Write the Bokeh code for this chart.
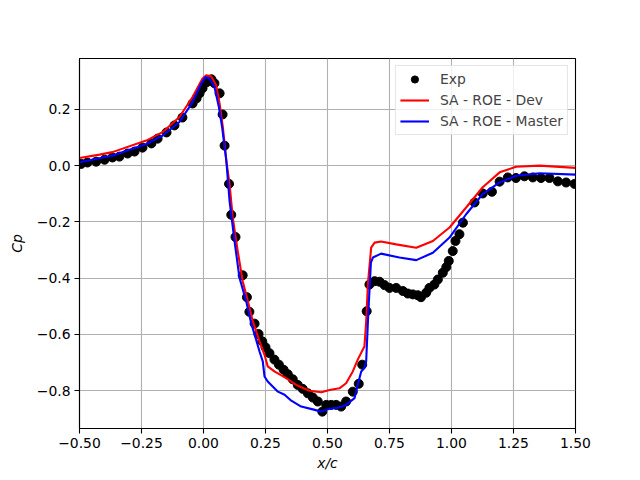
from bokeh.plotting import figure
from bokeh.models import FixedTicker, Range1d, Legend, LegendItem, CustomJSTickFormatter
from bokeh.embed import file_html
from bokeh.resources import INLINE

exp_x = [-0.493, -0.468, -0.433, -0.399, -0.367, -0.339, -0.306, -0.278, -0.246, -0.210,
         -0.185, -0.149, -0.117, -0.085, -0.044, -0.028, -0.016, -0.004, 0.012, 0.032,
         0.044, 0.065, 0.077, 0.085, 0.103, 0.112, 0.129, 0.158, 0.175, 0.185,
         0.206, 0.222, 0.237, 0.250, 0.266, 0.286, 0.304, 0.323, 0.340, 0.360,
         0.380, 0.400, 0.421, 0.441, 0.461, 0.479, 0.495, 0.515, 0.535, 0.555,
         0.575, 0.602, 0.626, 0.640, 0.658, 0.669, 0.690, 0.710, 0.730, 0.750,
         0.777, 0.804, 0.824, 0.844, 0.864, 0.877, 0.898, 0.911, 0.931, 0.945,
         0.965, 0.979, 0.989, 1.005, 1.016, 1.032, 1.046, 1.093, 1.126, 1.163,
         1.194, 1.227, 1.260, 1.294, 1.328, 1.361, 1.395, 1.429, 1.462, 1.496]
exp_y = [0.006, 0.011, 0.014, 0.021, 0.029, 0.032, 0.043, 0.050, 0.064, 0.079,
         0.096, 0.118, 0.143, 0.171, 0.221, 0.239, 0.257, 0.275, 0.296, 0.307,
         0.293, 0.257, 0.182, 0.071, -0.065, -0.175, -0.254, -0.390, -0.468, -0.520,
         -0.562, -0.599, -0.625, -0.646, -0.667, -0.690, -0.708, -0.726, -0.742, -0.760,
         -0.780, -0.794, -0.810, -0.825, -0.839, -0.875, -0.851, -0.851, -0.851, -0.857,
         -0.839, -0.804, -0.776, -0.708, -0.518, -0.423, -0.411, -0.413, -0.425, -0.435,
         -0.435, -0.446, -0.455, -0.458, -0.461, -0.468, -0.452, -0.435, -0.423, -0.405,
         -0.381, -0.361, -0.339, -0.304, -0.268, -0.244, -0.203, -0.131, -0.099, -0.093,
         -0.057, -0.042, -0.044, -0.038, -0.042, -0.044, -0.044, -0.056, -0.060, -0.065]

dev_x = [-0.5, -0.419, -0.367, -0.231, -0.165, -0.097, -0.044, -0.004, 0.011, 0.031,
         0.051, 0.065, 0.078, 0.092, 0.105, 0.118, 0.138, 0.158, 0.179, 0.199,
         0.226, 0.246, 0.259, 0.286, 0.333, 0.374, 0.427, 0.475, 0.508, 0.548,
         0.575, 0.602, 0.622, 0.642, 0.649, 0.656, 0.663, 0.676, 0.690, 0.716,
         0.777, 0.858, 0.925, 0.992, 1.059, 1.126, 1.194, 1.260, 1.355, 1.500]
dev_y = [0.027, 0.039, 0.048, 0.089, 0.119, 0.173, 0.244, 0.310, 0.321, 0.318,
         0.286, 0.220, 0.137, 0.018, -0.065, -0.185, -0.304, -0.411, -0.482, -0.554,
         -0.625, -0.673, -0.714, -0.732, -0.756, -0.780, -0.801, -0.806, -0.798, -0.792,
         -0.774, -0.732, -0.690, -0.655, -0.643, -0.554, -0.420, -0.292, -0.274, -0.270,
         -0.280, -0.292, -0.268, -0.220, -0.149, -0.077, -0.024, -0.004, 0.000, -0.008]

master_x = [-0.5, -0.366, -0.231, -0.164, -0.097, -0.044, -0.009, 0.008, 0.024, 0.044,
            0.062, 0.075, 0.092, 0.105, 0.125, 0.145, 0.172, 0.192, 0.206, 0.226,
            0.239, 0.246, 0.259, 0.279, 0.300, 0.327, 0.354, 0.394, 0.441, 0.475,
            0.508, 0.542, 0.575, 0.609, 0.622, 0.636, 0.649, 0.656, 0.663, 0.667,
            0.675, 0.683, 0.716, 0.790, 0.858, 0.925, 0.992, 1.059, 1.126, 1.194,
            1.260, 1.355, 1.500]
master_y = [0.012, 0.036, 0.077, 0.107, 0.155, 0.226, 0.292, 0.315, 0.310, 0.280,
            0.208, 0.137, 0.018, -0.125, -0.268, -0.399, -0.482, -0.560, -0.601, -0.661,
            -0.696, -0.750, -0.768, -0.786, -0.804, -0.815, -0.836, -0.857, -0.867, -0.875,
            -0.865, -0.861, -0.851, -0.827, -0.779, -0.732, -0.720, -0.696, -0.554, -0.482,
            -0.345, -0.327, -0.313, -0.327, -0.336, -0.310, -0.256, -0.173, -0.101, -0.060,
            -0.036, -0.027, -0.032]

x_ticks = [-0.5, -0.25, 0.0, 0.25, 0.5, 0.75, 1.0, 1.25, 1.5]
x_tick_labels = ["\u22120.50", "\u22120.25", "0.00", "0.25", "0.50", "0.75", "1.00", "1.25", "1.50"]
y_ticks = [-0.8, -0.6, -0.4, -0.2, 0.0, 0.2]
y_tick_labels = ["\u22120.8", "\u22120.6", "\u22120.4", "\u22120.2", "0.0", "0.2"]

FONT = "DejaVu Sans"
FS = "13.9px"

p = figure(frame_width=496, frame_height=370,
           min_border_left=79, min_border_right=49, min_border_top=58, min_border_bottom=36,
           x_range=Range1d(-0.5, 1.5), y_range=Range1d(-0.935, 0.381),
           output_backend="svg", toolbar_location=None,
           background_fill_color="white", border_fill_color="white")

p.outline_line_color = "black"
p.outline_line_width = 1.1

fmt_code = """
let best = 0; let d = Infinity;
for (let i = 0; i < tvals.length; i++) {
  const e = Math.abs(tvals[i] - tick);
  if (e < d) { d = e; best = i; }
}
return tlabels[best];
"""
p.xaxis.ticker = FixedTicker(ticks=x_ticks)
p.yaxis.ticker = FixedTicker(ticks=y_ticks)
p.xaxis.formatter = CustomJSTickFormatter(args=dict(tvals=x_ticks, tlabels=x_tick_labels), code=fmt_code)
p.yaxis.formatter = CustomJSTickFormatter(args=dict(tvals=y_ticks, tlabels=y_tick_labels), code=fmt_code)

for ax in (p.xaxis, p.yaxis):
    ax.axis_line_width = 1.1
    ax.major_tick_line_width = 1.1
    ax.major_tick_out = 5
    ax.major_tick_in = 0
    ax.minor_tick_out = 0
    ax.minor_tick_in = 0
    ax.major_label_text_font = FONT
    ax.major_label_text_font_size = FS
    ax.major_label_text_color = "black"
    ax.axis_label_text_font = FONT
    ax.axis_label_text_font_size = FS
    ax.axis_label_text_font_style = "italic"
    ax.axis_label_text_color = "black"
    ax.major_label_standoff = 4

p.xaxis.axis_label = "x/c"
p.yaxis.axis_label = "Cp"
p.xaxis.axis_label_standoff = 4
p.yaxis.axis_label_standoff = 9

p.grid.grid_line_color = "#b0b0b0"
p.grid.grid_line_width = 1.1

r_exp = p.scatter(exp_x, exp_y, size=9, marker="circle", fill_color="black", line_color="black")
r_dev = p.line(dev_x, dev_y, line_color="red", line_width=2.1)
r_master = p.line(master_x, master_y, line_color="blue", line_width=2.1)

legend = Legend(items=[LegendItem(label="Exp", renderers=[r_exp]),
                       LegendItem(label="SA - ROE - Dev", renderers=[r_dev]),
                       LegendItem(label="SA - ROE - Master", renderers=[r_master])],
                location="top_right")
legend.margin = 7
legend.padding = 4
legend.spacing = 3
legend.glyph_width = 29
legend.glyph_height = 18
legend.label_height = 18
legend.label_standoff = 11
legend.label_text_font = FONT
legend.label_text_font_size = FS
legend.border_line_color = "#cccccc"
legend.border_line_width = 1
legend.background_fill_alpha = 0.8
p.add_layout(legend)

open("out.html", "w").write(file_html(p, INLINE))
